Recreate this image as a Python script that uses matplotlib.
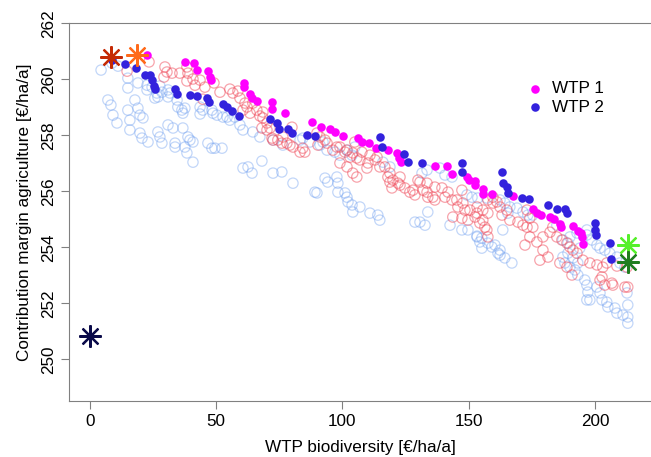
import matplotlib
matplotlib.use('Agg')
import matplotlib.pyplot as plt

# open circles, first set of runs (red)
red_x = [14.7, 23.4, 29.7, 30.5, 29.3, 32.5, 35.6, 38.4, 38.8, 38.4, 40.8, 41.6, 43.6, 45.5, 49.1, 51.5,
         44.7, 55.4, 56.6, 58.6, 59.4, 61.4, 60.6, 62.2, 63.4, 64.5, 66.1, 67.3, 68.5, 68.5, 68.1, 70.1,
         70.1, 71.3, 72.1, 72.5, 74.4, 76.4, 76.0, 78.0, 79.2, 80.0, 80.4, 83.2, 84.3, 85.1, 89.9, 90.3,
         91.1, 93.1, 93.9, 96.2, 97.8, 99.0, 101.0, 101.8, 103.0, 104.1, 104.9, 105.7, 99.0, 101.8, 104.1,
         105.7, 106.9, 107.7, 110.1, 109.7, 110.9, 112.9, 113.7, 114.8, 116.8, 118.0, 118.8, 118.8, 120.0,
         119.6, 122.0, 122.8, 122.8, 124.7, 126.7, 127.9, 128.7, 129.9, 130.7, 131.9, 133.5, 133.5, 133.8,
         135.8, 136.6, 136.6, 139.4, 140.6, 141.8, 143.4, 145.3, 145.7, 147.3, 147.7, 148.5, 150.5, 153.3,
         143.7, 147.3, 149.7, 152.5, 154.4, 155.6, 156.4, 157.2, 157.6, 153.3, 155.6, 157.6, 157.6, 159.6,
         159.6, 161.2, 162.4, 165.1, 163.2, 166.3, 169.5, 171.5, 173.1, 173.1, 174.2, 175.4, 174.2, 172.3,
         177.0, 179.4, 181.4, 178.2, 179.4, 182.2, 183.3, 184.9, 186.9, 188.9, 190.1, 191.3, 192.9, 186.1,
         188.9, 190.9, 195.2, 198.0, 200.8, 203.1, 202.8, 203.9, 207.1, 211.9, 213.0, 208.7, 212.7, 202.0,
         206.7, 204.7]
red_y = [260.29, 260.62, 260.44, 260.26, 260.08, 260.22, 260.22, 260.44, 260.22, 259.94, 260.01, 259.79,
         259.97, 259.72, 259.87, 259.54, 259.29, 259.65, 259.51, 259.58, 259.33, 259.15, 258.90, 259.01,
         258.79, 259.15, 258.90, 258.69, 258.83, 258.62, 258.26, 258.44, 258.19, 258.26, 257.90, 257.83,
         257.83, 257.94, 257.72, 257.72, 257.65, 258.29, 257.58, 257.40, 257.54, 257.40, 258.08, 257.65,
         257.94, 257.83, 257.72, 257.47, 257.58, 257.58, 257.40, 257.47, 257.22, 257.37, 257.76, 257.19,
         257.01, 256.87, 256.65, 256.51, 257.12, 257.40, 257.01, 256.83, 257.29, 257.12, 257.22, 256.87,
         256.87, 256.51, 256.65, 256.33, 256.40, 256.12, 256.29, 256.51, 256.22, 256.12, 255.97, 256.04,
         255.87, 256.40, 256.33, 256.04, 256.29, 255.97, 255.79, 255.79, 256.15, 255.69, 256.12, 255.79,
         255.97, 255.69, 255.69, 255.44, 256.04, 255.58, 255.33, 255.33, 255.22, 255.08, 255.04, 254.97,
         255.08, 254.87, 254.97, 254.72, 254.62, 254.37, 255.44, 255.33, 255.22, 255.69, 255.58, 255.79,
         255.62, 255.44, 255.33, 255.15, 254.97, 254.90, 254.79, 254.72, 255.33, 255.04, 254.72, 254.37,
         254.08, 254.19, 253.90, 253.65, 253.54, 254.37, 254.54, 254.72, 254.37, 254.26, 254.15, 254.01,
         253.90, 253.79, 253.44, 253.29, 253.01, 253.54, 253.44, 253.37, 253.29, 252.94, 252.65, 252.65,
         252.58, 252.58, 253.33, 253.29, 252.83, 252.72, 253.44]

# open circles, second set of runs (light blue)
lb_x = [7.1, 8.3, 9.1, 10.7, 15.0, 15.8, 15.8, 17.8, 19.0, 19.8, 21.0, 19.8, 20.6, 23.0, 26.9, 27.7,
        28.5, 30.9, 32.9, 36.8, 33.7, 33.7, 37.6, 38.4, 38.8, 39.6, 40.8, 40.8, 46.7, 48.3, 49.5, 52.3,
        60.6, 62.6, 64.2, 68.1, 72.5, 76.0, 80.4, 89.1, 89.9, 93.1, 94.2, 97.8, 98.2, 98.2, 101.0, 101.8,
        102.2, 103.8, 104.1, 106.9, 110.9, 114.0, 114.8, 128.7, 130.7, 132.7, 133.8, 142.6, 147.3, 149.7,
        153.3, 154.4, 155.2, 157.6, 159.2, 160.4, 161.6, 162.4, 162.4, 164.3, 167.1, 187.3, 188.1, 190.1,
        192.1, 193.2, 196.0, 196.8, 197.2, 198.0, 202.0, 202.8, 204.7, 205.1, 207.9, 208.7, 211.1, 213.0,
        213.0, 213.0, 212.7, 200.8, 196.8,
        4.4, 8.7, 11.1, 15.0, 15.0, 19.0, 22.6, 24.6, 27.7, 22.6, 26.5, 25.7, 28.5, 30.9, 31.7, 34.5,
        34.8, 37.6, 36.8, 43.6, 48.3, 50.3, 52.7, 26.9, 30.9, 36.4, 43.6, 44.7, 48.7, 54.3, 55.4, 57.4,
        59.4, 60.6, 64.5, 67.3, 72.5, 76.4, 83.2, 84.3, 87.1, 91.1, 92.3, 93.9, 97.0, 99.0, 101.8, 103.8,
        104.9, 116.0, 118.8, 131.5, 133.5, 138.6, 140.6, 143.4, 149.3, 151.3, 153.6, 157.2, 162.4, 164.3,
        166.3, 169.1, 171.5, 173.4, 175.4, 163.5, 165.5, 184.9, 187.3, 189.3, 190.1, 192.9, 189.3, 191.3,
        193.2, 194.0, 196.8, 196.8, 198.8, 200.8, 202.0, 203.9, 205.9, 208.7, 209.9, 211.9, 153.3, 155.2]
lb_y = [259.26, 259.08, 258.72, 258.44, 258.90, 258.54, 258.19, 259.26, 258.97, 258.72, 258.62, 258.08,
        257.90, 257.76, 258.12, 257.94, 257.72, 258.37, 258.26, 258.26, 257.72, 257.58, 257.58, 257.37,
        257.94, 257.83, 257.76, 257.04, 257.72, 257.54, 257.54, 257.54, 256.83, 256.87, 256.65, 257.08,
        256.65, 256.69, 256.29, 255.97, 255.94, 256.47, 256.33, 256.51, 256.29, 255.97, 255.94, 255.79,
        255.62, 255.51, 255.26, 255.44, 255.22, 255.15, 254.97, 254.90, 254.90, 254.79, 255.26, 254.79,
        254.62, 254.62, 254.37, 254.19, 253.97, 254.15, 254.01, 254.08, 253.79, 253.90, 253.72, 253.62,
        253.44, 253.65, 253.44, 253.29, 253.19, 253.01, 252.83, 252.65, 252.40, 252.12, 252.37, 252.12,
        252.04, 251.87, 251.83, 251.65, 251.58, 251.51, 251.29, 251.94, 252.37, 252.58, 252.12,
        260.33, 260.58, 260.47, 260.04, 259.69, 259.87, 259.79, 259.72, 259.76, 259.62, 259.51, 259.33,
        259.54, 259.62, 259.51, 259.26, 259.01, 258.97, 258.79, 258.76, 258.90, 258.72, 258.65, 259.37,
        259.37, 258.90, 259.01, 258.90, 258.79, 258.65, 258.54, 258.65, 258.37, 258.19, 258.12, 257.94,
        257.83, 257.65, 257.83, 257.90, 257.76, 257.65, 257.76, 257.47, 257.40, 257.29, 257.47, 257.29,
        257.58, 257.04, 256.87, 256.65, 256.76, 256.83, 256.58, 256.51, 255.87, 255.79, 255.76, 255.76,
        255.69, 255.58, 255.44, 255.40, 255.26, 255.15, 255.15, 254.62, 255.22, 254.79, 254.26, 254.15,
        254.37, 254.51, 253.79, 253.62, 253.44, 253.97, 254.62, 254.44, 254.26, 254.08, 253.97, 253.90,
        253.79, 253.65, 253.44, 253.29, 254.40, 254.33]

# WTP 1 (filled magenta)
w1_x = [22.6, 37.6, 41.2, 42.4, 46.7, 47.5, 47.9, 61.0, 61.0, 63.4, 64.2, 66.1, 72.1, 72.1, 77.2, 87.9,
        91.5, 95.0, 97.0, 100.2, 106.1, 107.7, 110.5, 113.3, 118.0, 121.6, 122.4, 123.2, 136.6, 141.4,
        143.4, 149.3, 150.1, 152.5, 152.5, 155.6, 155.6, 159.2, 167.5, 175.4, 177.0, 178.6, 182.2, 183.7,
        186.1, 186.5, 191.3, 193.2, 194.4, 194.8, 195.2]
w1_y = [260.87, 260.62, 260.58, 260.33, 260.29, 260.08, 259.97, 259.87, 259.72, 259.47, 259.33, 259.22,
        259.19, 258.94, 258.79, 258.47, 258.29, 258.22, 258.12, 257.97, 257.90, 257.76, 257.72, 257.54,
        257.47, 257.37, 257.19, 257.04, 256.90, 256.90, 256.62, 256.51, 256.40, 256.37, 256.22, 256.08,
        255.90, 255.90, 255.83, 255.37, 255.22, 255.15, 255.08, 255.01, 254.83, 254.72, 254.76, 254.58,
        254.51, 254.37, 254.12]

# WTP 2 (filled blue)
w2_x = [8.7, 13.9, 18.2, 21.8, 23.8, 24.6, 25.3, 25.7, 33.7, 34.5, 39.6, 42.4, 46.3, 47.1, 52.7, 54.3,
        56.2, 59.0, 71.3, 74.1, 74.8, 78.4, 80.0, 85.9, 89.1, 114.8, 115.6, 124.3, 125.9, 131.5, 147.3,
        147.3, 163.2, 163.5, 165.1, 165.5, 171.1, 173.8, 181.4, 184.9, 188.1, 188.9, 200.0, 200.0, 200.4,
        205.9, 206.3]
w2_y = [260.69, 260.54, 260.40, 260.15, 260.15, 259.97, 259.76, 259.65, 259.65, 259.47, 259.44, 259.40,
        259.33, 259.19, 259.12, 259.01, 258.87, 258.69, 258.58, 258.44, 258.22, 258.22, 258.08, 258.01,
        257.97, 257.94, 257.58, 257.33, 257.04, 257.01, 257.01, 256.69, 256.69, 256.29, 256.15, 255.94,
        255.76, 255.72, 255.51, 255.37, 255.37, 255.22, 254.87, 254.62, 254.44, 254.15, 253.58]

# single reference solutions (stars)
star_x = [0.0, 8.3, 18.7, 212.9, 212.9]
star_y = [250.84, 260.79, 260.87, 254.08, 253.48]
star_c = ['#0b0b4a', '#c52a05', '#ff6a1a', '#55f02a', '#1f7d1f']

plt.rcParams['font.family'] = ['Liberation Sans', 'DejaVu Sans']
FS = 12.3
GREY = '#808080'

fig = plt.figure(figsize=(6.51, 4.57), dpi=100)
ax = fig.add_axes([69 / 651, 55.7 / 457, 582 / 651, 378 / 457])

ax.scatter(lb_x, lb_y, s=55, facecolors='none', edgecolors='#6f9ff0', alpha=0.42, linewidths=0.9, zorder=2)
ax.scatter(red_x, red_y, s=55, facecolors='none', edgecolors='#f04a5a', alpha=0.5, linewidths=0.9, zorder=2)
ax.scatter(w1_x, w1_y, s=38, color='#ff00ff', linewidths=0, zorder=3, label='WTP 1')
ax.scatter(w2_x, w2_y, s=38, color='#3322dd', linewidths=0, zorder=3, label='WTP 2')
for x, y, c in zip(star_x, star_y, star_c):
    ax.plot([x], [y], marker=(8, 2, 0), ms=16, mew=1.6, color=c, ls='none', zorder=4)

ax.set_xlim(-8.3, 222.2)
ax.set_ylim(248.5, 262)
ax.set_xticks([0, 50, 100, 150, 200])
ax.set_yticks(range(250, 263, 2))
ax.tick_params(axis='both', colors=GREY, labelcolor='black', labelsize=FS, length=6, width=0.8)
ax.tick_params(axis='x', pad=3)
ax.tick_params(axis='y', labelrotation=90, pad=3)
for lab in ax.get_yticklabels():
    lab.set_va('center')
for sp in ('left', 'bottom', 'top'):
    ax.spines[sp].set_color(GREY)
    ax.spines[sp].set_linewidth(0.8)
ax.spines['right'].set_visible(False)

ax.set_xlabel('WTP biodiversity [€/ha/a]', fontsize=FS, labelpad=8)
ax.set_ylabel('Contribution margin agriculture [€/ha/a]', fontsize=FS, labelpad=7)

ax.legend(loc='upper left', bbox_to_anchor=(0.786, 0.847), frameon=False, fontsize=FS,
          handlelength=1.0, handletextpad=0.5, labelspacing=0.2, borderpad=0, borderaxespad=0,
          markerscale=1.0)

fig.savefig('out.png', dpi=100, facecolor='white')
